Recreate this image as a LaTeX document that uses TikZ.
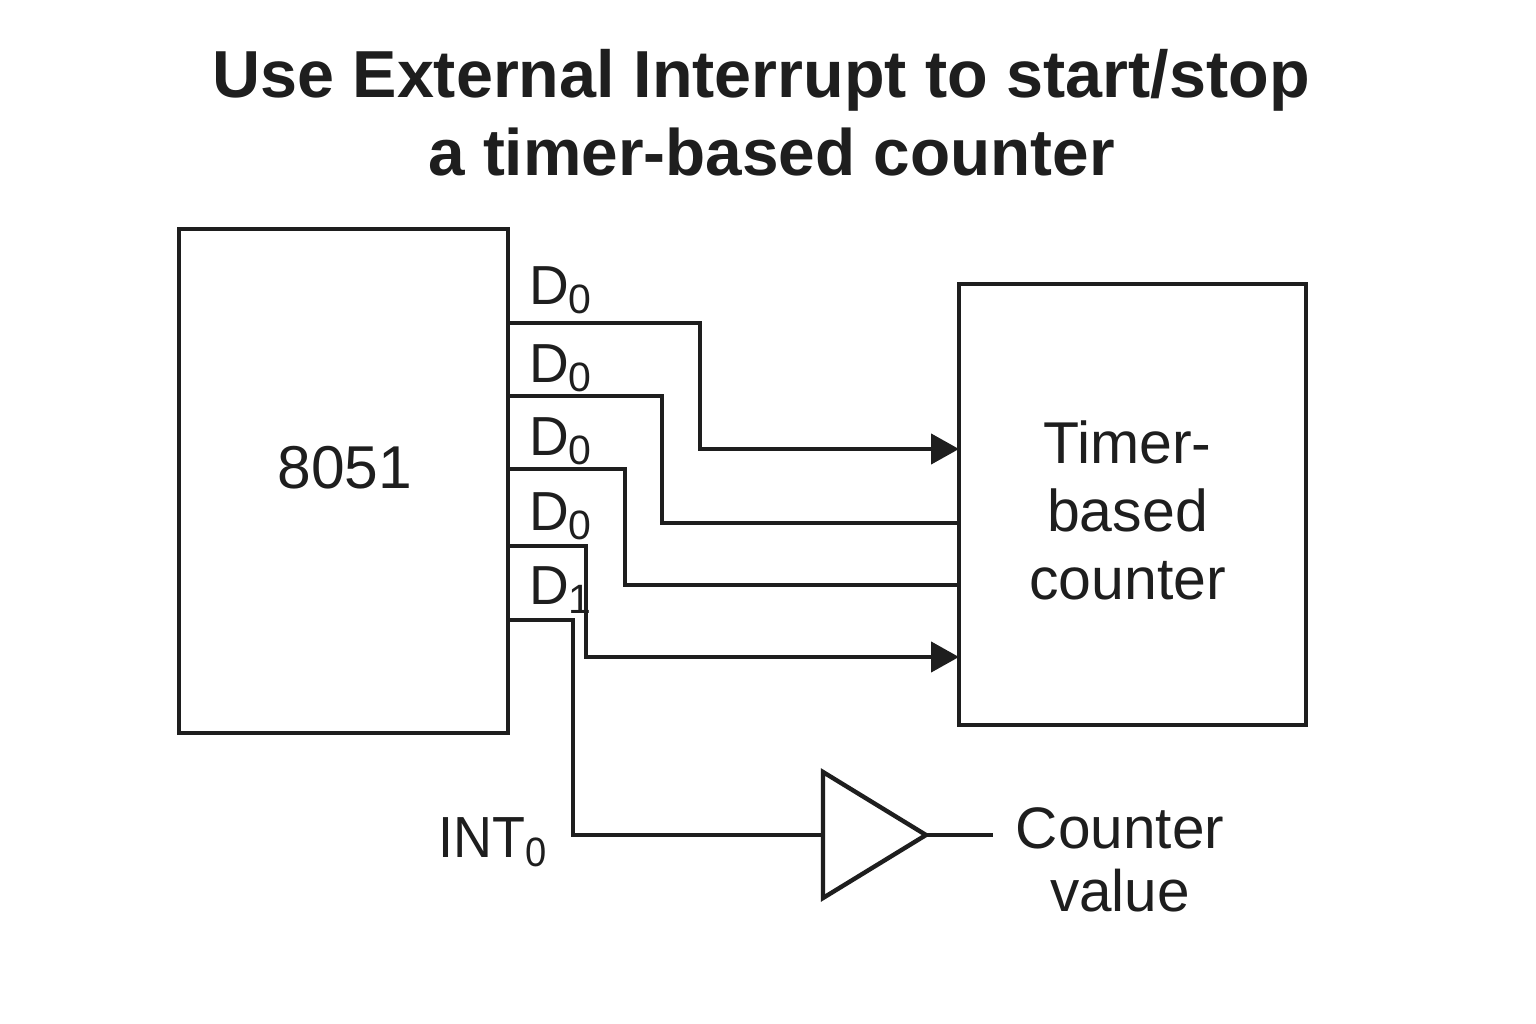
\documentclass[tikz,border=0pt]{standalone}
\usepackage{fontspec}
\setmainfont{Liberation Sans}
\usetikzlibrary{arrows.meta}
\definecolor{ink}{HTML}{1E1E1E}
\tikzset{
 x=1pt,y=-1pt,
 boxnode/.style={draw=ink,line width=4pt,inner sep=0pt,outer sep=0pt,minimum width=#1,anchor=north west},
 wire/.style={draw=ink,line width=4.4pt,line join=miter},
 arrowwire/.style={wire,-{Triangle[length=28pt,width=30pt]}},
 lab/.style={text=ink,font=\fontsize{59}{68}\selectfont,inner sep=0pt},
 labtight/.style={text=ink,font=\fontsize{58.5}{63}\selectfont,inner sep=0pt},
 sublab/.style={text=ink,font=\fontsize{55}{62}\selectfont,inner sep=0pt,anchor=base west},
 ttl/.style={text=ink,font=\bfseries\fontsize{66.5}{77}\selectfont,inner sep=0pt},
}
\newcommand{\Dl}[2]{#1\raisebox{-9pt}{\fontsize{41}{44}\selectfont #2}}
\newcommand{\Il}[2]{\scalebox{0.93}[1]{#1}\raisebox{-9pt}{\scalebox{0.93}[1]{\fontsize{41}{44}\selectfont #2}}}
\begin{document}
\begin{tikzpicture}
\useasboundingbox (0,0) rectangle (1536,1024);
\fill[white] (0,0) rectangle (1536,1024);
\node[ttl] (title1) at (761,80) {Use External Interrupt to start/stop};
\node[ttl,font=\bfseries\fontsize{65.7}{77}\selectfont] (title2) at (771.5,152) {a timer-based counter};
\node[boxnode=329pt,minimum height=504pt] (mcu) at (179,229) {};
\node[lab,font=\fontsize{60.5}{68}\selectfont] (mculab) at (345,468) {8051};
\node[boxnode=347pt,minimum height=441pt] (ctr) at (959,284) {};
\node[lab,align=center] (ctrl) at (1127.5,510) {Timer-\\based\\counter};
\coordinate (a1) at (508,323); \coordinate (b1) at (959,449);
\coordinate (a2) at (508,396); \coordinate (b2) at (959,523);
\coordinate (a3) at (508,469); \coordinate (b3) at (959,585);
\coordinate (a4) at (508,546); \coordinate (b4) at (959,657);
\coordinate (a5) at (508,620);
\draw[arrowwire] (a1) -| (700,449) -- (b1);
\draw[wire] (a2) -| (662,523) -- (b2);
\draw[wire] (a3) -| (625,585) -- (b3);
\draw[arrowwire] (a4) -| (586,657) -- (b4);
\node[sublab] (d1) at (529,305) {\Dl{D}{0}};
\node[sublab] (d2) at (529,382) {\Dl{D}{0}};
\node[sublab] (d3) at (529,455) {\Dl{D}{0}};
\node[sublab] (d4) at (529,530) {\Dl{D}{0}};
\node[sublab] (d5) at (529,604) {\Dl{D}{1}};
\coordinate (t1) at (823,772); \coordinate (t2) at (823,898); \coordinate (t3) at (926,835);
\draw[wire] (t1) -- (t2) -- (t3) -- cycle;
\coordinate (o) at (993,835);
\draw[wire] (a5) -| (573,835) -- (823,835);
\draw[wire] (t3) -- (o);
\node[sublab,font=\fontsize{58}{62}\selectfont] (intl) at (438,857) {\Il{INT}{0}};
\node[labtight,align=center] (cv) at (1120,860) {Counter\\value};
\end{tikzpicture}
\end{document}
